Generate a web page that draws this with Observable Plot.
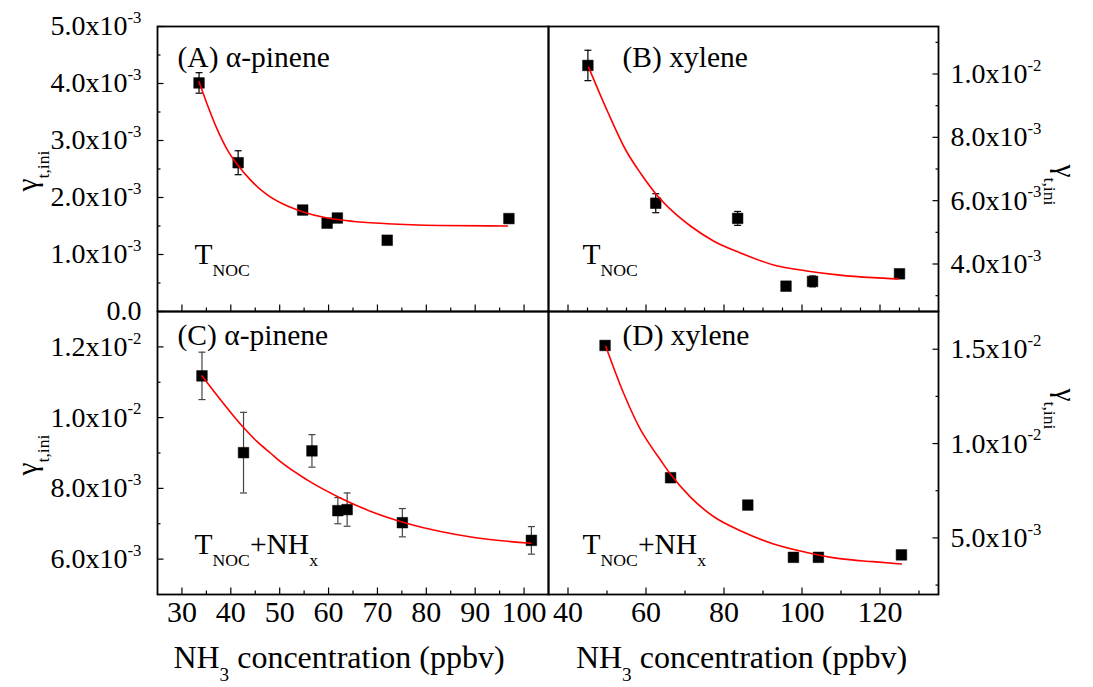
<!DOCTYPE html>
<html>
<head>
<meta charset="utf-8">
<script src="https://cdn.jsdelivr.net/npm/d3@7"></script>
<script src="https://cdn.jsdelivr.net/npm/@observablehq/plot@0.6"></script>
<style>
  html, body { margin: 0; padding: 0; background: #fff; }
  #fig { position: relative; width: 1093px; height: 687px; background: #fff; }
  #fig svg { position: absolute; left: 0; top: 0; overflow: visible; font-family: "Liberation Serif", "DejaVu Serif", serif !important; }
  #fig svg text { font-family: "Liberation Serif", "DejaVu Serif", serif !important; }
</style>
</head>
<body>
<div id="fig"></div>
<script>
// ---------------- DATA ----------------
// Panel A: alpha-pinene, T_NOC
const xA = [33.5, 41.5, 54.7, 59.7, 61.8, 72.0, 96.9];
const yA = [4.01e-3, 2.61e-3, 1.78e-3, 1.55e-3, 1.64e-3, 1.25e-3, 1.63e-3];
const eA = [0.18e-3, 0.21e-3, 0, 0, 0, 0, 0];
const fitAx = [33.5, 35.1, 37.2, 39.2, 41.5, 44.0, 47.4, 50.8, 54.65, 59.7, 65.2, 72.0, 82.9, 96.6];
const fitAy = [4.03e-3, 3.65e-3, 3.20e-3, 2.85e-3, 2.56e-3, 2.31e-3, 2.05e-3, 1.88e-3, 1.75e-3, 1.64e-3, 1.58e-3, 1.54e-3, 1.51e-3, 1.50e-3];

// Panel B: xylene, T_NOC
const xB = [45.1, 62.5, 83.5, 95.9, 102.7, 125.0];
const yB = [10.27e-3, 5.92e-3, 5.44e-3, 3.30e-3, 3.45e-3, 3.69e-3];
const eB = [0.48e-3, 0.30e-3, 0.22e-3, 0, 0.17e-3, 0];
const fitBx = [45.3, 50.2, 54.8, 58.7, 62.5, 67.2, 71.4, 77.4, 84.2, 92.7, 101.2, 109.7, 118.2, 124.6];
const fitBy = [10.21e-3, 8.80e-3, 7.60e-3, 6.85e-3, 6.22e-3, 5.62e-3, 5.20e-3, 4.72e-3, 4.35e-3, 3.97e-3, 3.78e-3, 3.65e-3, 3.57e-3, 3.53e-3];

// Panel C: alpha-pinene, T_NOC + NH_x
const xC = [34.1, 42.6, 56.6, 61.9, 63.8, 75.1, 101.5];
const yC = [11.18e-3, 9.01e-3, 9.06e-3, 7.37e-3, 7.40e-3, 7.03e-3, 6.53e-3];
const eC = [0.67e-3, 1.14e-3, 0.46e-3, 0.37e-3, 0.47e-3, 0.40e-3, 0.39e-3];
const fitCx = [34.1, 38.5, 42.6, 45.4, 48.1, 50.1, 55.6, 62.4, 69.2, 76.1, 82.9, 89.8, 101.4];
const fitCy = [11.18e-3, 10.40e-3, 9.72e-3, 9.32e-3, 9.00e-3, 8.76e-3, 8.24e-3, 7.73e-3, 7.32e-3, 7.01e-3, 6.78e-3, 6.61e-3, 6.45e-3];

// Panel D: xylene, T_NOC + NH_x
const xD = [49.5, 66.3, 86.1, 97.8, 104.2, 125.5];
const yD = [15.2e-3, 8.19e-3, 6.74e-3, 3.97e-3, 3.97e-3, 4.10e-3];
const eD = [0, 0, 0, 0, 0, 0];
const fitDx = [49.7, 54.4, 58.7, 60.4, 63.8, 66.3, 71.4, 77.4, 84.2, 92.7, 101.2, 109.7, 118.2, 125.5];
const fitDy = [15.15e-3, 12.6e-3, 10.7e-3, 10.13e-3, 9.10e-3, 8.37e-3, 7.16e-3, 6.12e-3, 5.38e-3, 4.68e-3, 4.23e-3, 3.90e-3, 3.74e-3, 3.62e-3];

// Axis ticks and labels
const xLeftMinor = [35, 45, 55, 65, 75, 85, 95];
const xLeftMajor = [30, 40, 50, 60, 70, 80, 90, 100];
const xRightMinorB = [45, 50, 55, 65, 70, 75, 85, 90, 95, 105, 110, 115, 125, 130];
const xRightMinorD = [50, 70, 90, 110, 130];
const xRightMajor = [40, 60, 80, 100, 120];
const yAMinor = [0.5e-3, 1.5e-3, 2.5e-3, 3.5e-3, 4.5e-3];
const yAMajor = [0, 1e-3, 2e-3, 3e-3, 4e-3, 5e-3];
const yBMinor = [3e-3, 5e-3, 7e-3, 9e-3, 11e-3];
const yBMajor = [4e-3, 6e-3, 8e-3, 10e-3];
const yCMinor = [7e-3, 9e-3, 11e-3];
const yCMajor = [6e-3, 8e-3, 10e-3, 12e-3];
const yDMinor = [2.5e-3, 7.5e-3, 12.5e-3];
const yDMajor = [5e-3, 10e-3, 15e-3];

const titles = ["(A) α-pinene", "(B) xylene", "(C) α-pinene", "(D) xylene"];
const conditions = ["T_{NOC}", "T_{NOC}", "T_{NOC}+NH_{x}", "T_{NOC}+NH_{x}"];
const yTitle = "γ_{t,ini}";
const xTitle = "NH_{3} concentration (ppbv)";

// ---------------- RENDERING ----------------
const W = 1093, H = 687;
const FONT = "Liberation Serif";
const YTICK_FS = 28, XTICK_FS = 30, TITLE_FS = 29.5, AXT_FS = 32;

function sci(v) {
  if (v === 0) return "0.0";
  const e = Math.floor(Math.log10(v) + 1e-9);
  const m = v / Math.pow(10, e);
  return `${m.toFixed(1)}x10^{${e}}`;
}

const capSymbol = {
  draw(ctx, size) {
    const w = Math.sqrt(size / Math.PI);
    ctx.moveTo(-w, 0);
    ctx.lineTo(w, 0);
  }
};

function panel(c) {
  const pts = c.x.map((x, i) => ({x, y: c.y[i], e: c.e[i]}));
  const errs = pts.filter(d => d.e > 0);
  const fit = c.fx.map((x, i) => ({x, y: c.fy[i]}));
  const b = c.box;
  const side = c.yAnchor;
  const marks = [
    Plot.ruleX(errs, {x: "x", y1: d => d.y - d.e, y2: d => d.y + d.e, stroke: c.errColor, strokeWidth: 1.2}),
    Plot.dot(errs, {x: "x", y: d => d.y + d.e, symbol: capSymbol, r: 3.5, stroke: c.errColor, fill: "none", strokeWidth: 1.2}),
    Plot.dot(errs, {x: "x", y: d => d.y - d.e, symbol: capSymbol, r: 3.5, stroke: c.errColor, fill: "none", strokeWidth: 1.2}),
    Plot.dot(pts, {x: "x", y: "y", symbol: "square", r: 6, fill: "black", stroke: "black", strokeWidth: 0.5}),
    Plot.line(fit, {x: "x", y: "y", stroke: "#ff0000", strokeWidth: 1.6, curve: "monotone-x"}),
    Plot.axisX({anchor: "bottom", ticks: c.xMinor, tickSize: -3.5, tickFormat: () => "", label: null, strokeWidth: 1.2}),
    Plot.axisX({anchor: "bottom", ticks: c.xMajor, tickSize: -6.5, tickFormat: () => "", label: null, strokeWidth: 1.2}),
    Plot.axisY({anchor: side, ticks: c.yMinor, tickSize: -3.5, tickFormat: () => "", label: null, strokeWidth: 1.2}),
    Plot.axisY({anchor: side, ticks: c.yMajor, tickSize: -6.5, tickFormat: () => "", label: null, strokeWidth: 1.2}),
    Plot.axisY({anchor: side, ticks: c.yMajor, tickSize: 0, tickPadding: side === "left" ? 16 : 12, tickFormat: sci,
      fontSize: YTICK_FS, fontFamily: FONT, label: null}),
    Plot.frame({stroke: "black", strokeWidth: 1.8}),
    Plot.text([c.title], {text: d => d, frameAnchor: "top-left", dx: c.titleDx, dy: c.titleDy, textAnchor: "start",
      lineAnchor: "middle", fontSize: TITLE_FS, fontFamily: FONT, fill: "black"}),
    Plot.text([c.cond], {text: d => d, frameAnchor: "bottom-left", dx: c.condDx, dy: c.condDy, textAnchor: "start",
      lineAnchor: "middle", fontSize: TITLE_FS, fontFamily: FONT, fill: "black"}),
    Plot.text([yTitle], {text: d => d, frameAnchor: side, dx: side === "left" ? -130 : 127, dy: c.yTitleDy,
      rotate: side === "left" ? -90 : 90, textAnchor: "middle", lineAnchor: "middle", fontSize: TITLE_FS, fontFamily: FONT, fill: "black"})
  ];
  if (c.xLabels) {
    marks.push(Plot.axisX({anchor: "bottom", ticks: c.xLabels, tickSize: 0, tickPadding: 6, tickFormat: d => String(d),
      fontSize: XTICK_FS, fontFamily: FONT, label: null}));
    marks.push(Plot.text([xTitle], {text: d => d, frameAnchor: "bottom", dx: c.xTitleDx, dy: 63, textAnchor: "middle",
      lineAnchor: "middle", fontSize: AXT_FS, fontFamily: FONT, fill: "black"}));
  }
  return Plot.plot({
    width: W, height: H,
    marginLeft: b.left, marginRight: W - b.right, marginTop: b.top, marginBottom: H - b.bottom,
    x: {domain: c.xDomain, label: null},
    y: {domain: c.yDomain, label: null},
    style: {background: "transparent", overflow: "visible", color: "black"},
    marks
  });
}

const L = 157, M = 548, R = 938, T = 26, MID = 311, B = 594;

const configs = [
  {x: xA, y: yA, e: eA, fx: fitAx, fy: fitAy, box: {left: L, right: M, top: T, bottom: MID},
   xDomain: [25, 105], yDomain: [0, 5e-3], xMinor: xLeftMinor, xMajor: xLeftMajor, xLabels: null,
   yMinor: yAMinor, yMajor: yAMajor, yAnchor: "left", errColor: "black",
   title: titles[0], titleDx: 20, titleDy: 31, cond: conditions[0], condDx: 37, condDy: -57, yTitleDy: 2},
  {x: xB, y: yB, e: eB, fx: fitBx, fy: fitBy, box: {left: M, right: R, top: T, bottom: MID},
   xDomain: [35, 135], yDomain: [2.5e-3, 11.5e-3], xMinor: xRightMinorB, xMajor: xRightMajor, xLabels: null,
   yMinor: yBMinor, yMajor: yBMajor, yAnchor: "right", errColor: "black",
   title: titles[1], titleDx: 74, titleDy: 31, cond: conditions[1], condDx: 34, condDy: -57, yTitleDy: 16},
  {x: xC, y: yC, e: eC, fx: fitCx, fy: fitCy, box: {left: L, right: M, top: MID, bottom: B},
   xDomain: [25, 105], yDomain: [5e-3, 13e-3], xMinor: xLeftMinor, xMajor: xLeftMajor, xLabels: xLeftMajor,
   yMinor: yCMinor, yMajor: yCMajor, yAnchor: "left", errColor: "#444",
   title: titles[2], titleDx: 20, titleDy: 24, cond: conditions[2], condDx: 37, condDy: -50, yTitleDy: 2, xTitleDx: -14},
  {x: xD, y: yD, e: eD, fx: fitDx, fy: fitDy, box: {left: M, right: R, top: MID, bottom: B},
   xDomain: [35, 135], yDomain: [2e-3, 17e-3], xMinor: xRightMinorD, xMajor: xRightMajor, xLabels: xRightMajor,
   yMinor: yDMinor, yMajor: yDMajor, yAnchor: "right", errColor: "black",
   title: titles[3], titleDx: 74, titleDy: 24, cond: conditions[3], condDx: 34, condDy: -50, yTitleDy: -44, xTitleDx: -2}
];

const fig = document.getElementById("fig");
for (const c of configs) fig.appendChild(panel(c));

// Turn _{...} and ^{...} markup into real subscript / superscript tspans
function richify(root) {
  const NS = "http://www.w3.org/2000/svg";
  root.querySelectorAll("text").forEach(t => {
    const targets = t.querySelector("tspan") ? [...t.querySelectorAll("tspan")] : [t];
    for (const n of targets) {
      const s = n.textContent;
      if (!/[_^]\{/.test(s)) continue;
      const fs = parseFloat(getComputedStyle(n).fontSize) || YTICK_FS;
      n.textContent = "";
      const re = /([_^])\{([^}]*)\}/g;
      let last = 0, m, pending = 0;
      const add = (txt, size, dy) => {
        const sp = document.createElementNS(NS, "tspan");
        if (size) sp.setAttribute("font-size", size);
        if (dy) sp.setAttribute("dy", dy);
        sp.textContent = txt;
        n.appendChild(sp);
      };
      while ((m = re.exec(s))) {
        if (m.index > last) { add(s.slice(last, m.index), null, pending); pending = 0; }
        const shift = m[1] === "^" ? -0.44 * fs : 0.40 * fs;
        add(m[2], 0.6 * fs, shift + pending);
        pending = -shift;
        last = re.lastIndex;
      }
      if (last < s.length) add(s.slice(last), null, pending);
    }
  });
}
richify(fig);
</script>
</body>
</html>
